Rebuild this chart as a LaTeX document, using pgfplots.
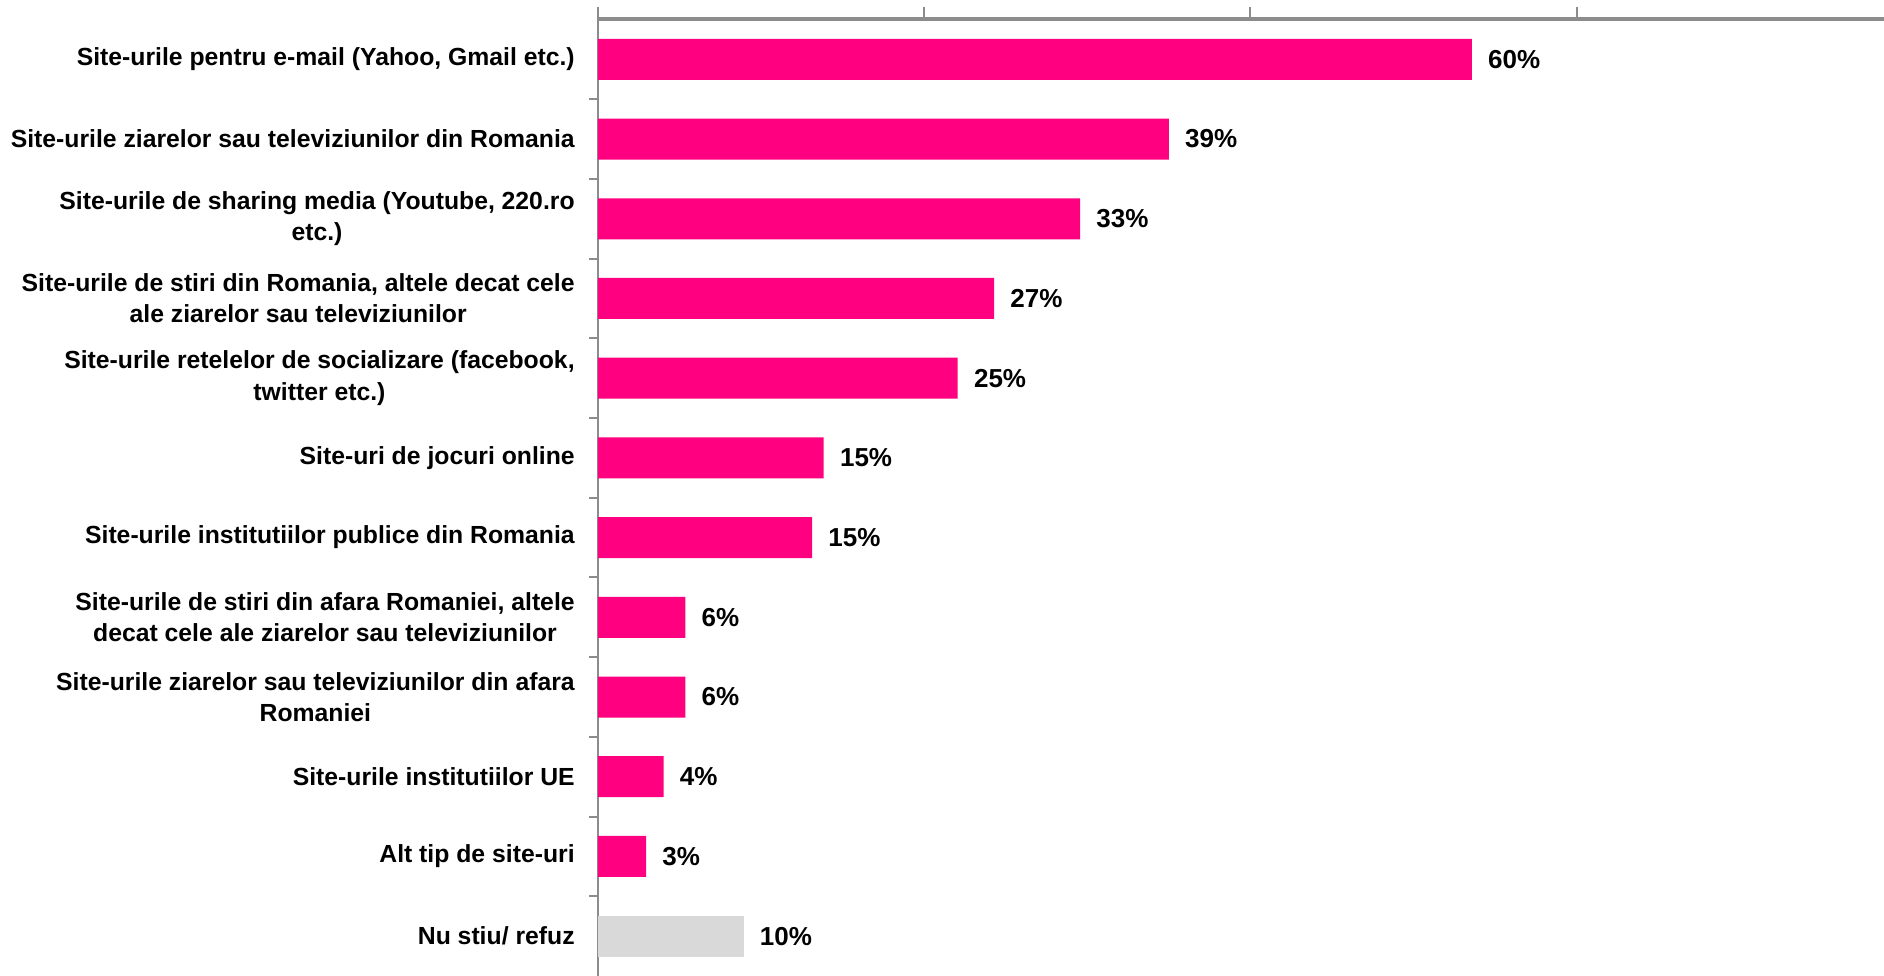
\documentclass[border=0pt]{standalone}
\usepackage{fontspec}
\setmainfont{Liberation Sans}
\usepackage{pgfplots}
\pgfplotsset{compat=1.18}
\usepackage{pgfplotstable}
\usetikzlibrary{calc}

\definecolor{barpink}{HTML}{FF0080}
\definecolor{bargray}{HTML}{D9D9D9}
\definecolor{axgray}{HTML}{8C8C8C}

% y = 11 is the top category
\pgfplotstableread{
y x lab
11 60.0 60
10 39.2 39
9 33.1 33
8 27.2 27
7 24.7 25
6 15.5 15
5 14.7 15
4 6.0 6
3 6.0 6
2 4.5 4
1 3.3 3
}\sitedata

\pgfplotstableread{
y x lab
0 10.0 10
}\refuzdata

\begin{document}
\begin{tikzpicture}
\begin{axis}[
    name=ax,
    xbar,
    bar width=16.4pt,
    scale only axis,
    width=514.4pt, height=382.6pt,
    xmin=0, xmax=88.3,
    ymin=-0.5, ymax=11.5,
    axis x line*=top,
    axis y line*=left,
    x axis line style={axgray, line width=1.6pt, -},
    y axis line style={axgray, line width=0.8pt, -},
    xtick={0,22.4,44.8,67.2},
    xticklabels={},
    xtick style={axgray, line width=0.8pt},
    xtick align=outside,
    major tick length=5pt,
    ytick={0,...,11},
    yticklabels={
        Nu stiu/ refuz,
        Alt tip de site-uri,
        Site-urile institutiilor UE,
        {Site-urile ziarelor sau televiziunilor din afara\\Romaniei},
        {Site-urile de stiri din afara Romaniei, altele\\decat cele ale ziarelor sau televiziunilor},
        Site-urile institutiilor publice din Romania,
        Site-uri de jocuri online,
        {Site-urile retelelor de socializare (facebook,\\twitter etc.)},
        {Site-urile de stiri din Romania, altele decat cele\\ale ziarelor sau televiziunilor},
        {Site-urile de sharing media (Youtube, 220.ro\\etc.)},
        Site-urile ziarelor sau televiziunilor din Romania,
        {Site-urile pentru e-mail (Yahoo, Gmail etc.)}
    },
    major y tick style={draw=none},
    minor ytick={0.5,1.5,...,10.5},
    minor tick length=3.5pt,
    ytick align=outside,
    minor y tick style={axgray, line width=0.8pt},
    yticklabel style={font=\fontsize{9.9}{12.5}\selectfont\bfseries, align=center, xshift=-0.8pt},
    nodes near coords={\pgfplotspointmeta\%},
    point meta=explicit symbolic,
    every node near coord/.append style={font=\fontsize{10.4}{12.5}\selectfont\bfseries, black, anchor=west, xshift=3pt},
    clip=false,
]
\addplot[fill=barpink, draw=none, bar shift=0pt] table[x=x, y=y, meta=lab] {\sitedata};
\addplot[fill=bargray, draw=none, bar shift=0pt] table[x=x, y=y, meta=lab] {\refuzdata};
\end{axis}
\pgfresetboundingbox
\path[use as bounding box] ($(ax.south west)+(-239.2pt,0)$) rectangle ($(ax.north east)+(0,7.8pt)$);
\end{tikzpicture}
\end{document}
